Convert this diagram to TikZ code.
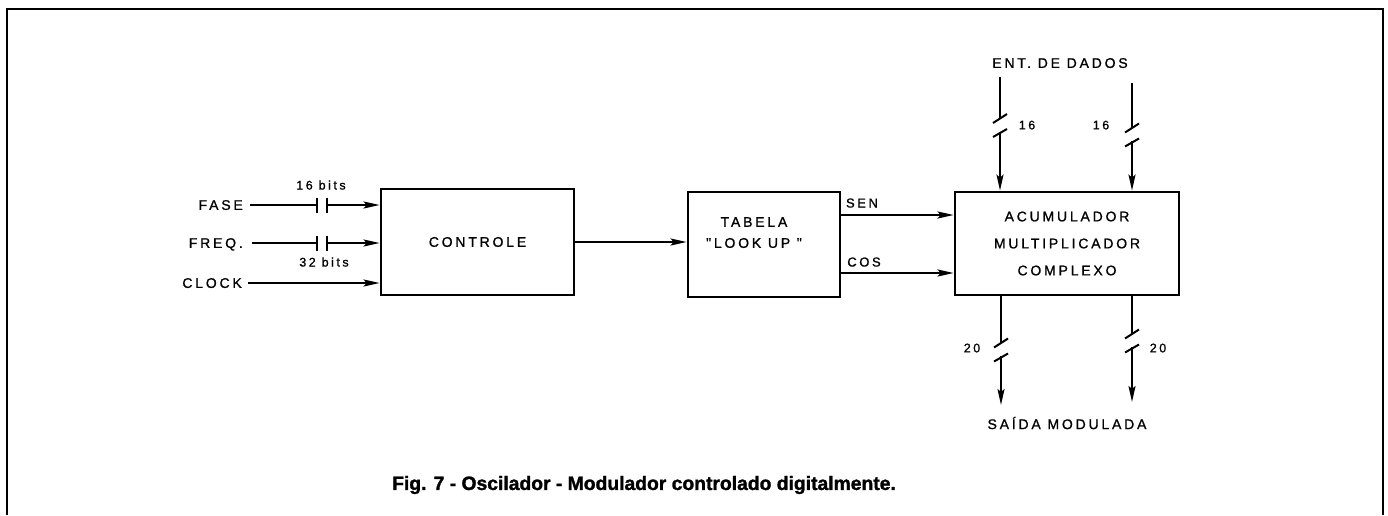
\documentclass[tikz,border=0pt]{standalone}
\usepackage{fontspec}
\setmainfont{Liberation Sans}
\newfontfamily\lblfont[LetterSpace=20, FakeBold=1]{Liberation Sans}
\newfontfamily\capfont[FakeBold=1.5]{Liberation Sans Bold}
\usetikzlibrary{arrows.meta}
\begin{document}
\begin{tikzpicture}[x=1pt,y=-1pt,
  blk/.style={draw, line width=2.8pt, inner sep=0pt, align=center,
    font=\lblfont\fontsize{14}{27}\selectfont},
  conn/.style={line width=2pt},
  arr/.style={conn, -{Stealth[length=16pt,width=7pt,inset=3pt]}},
  lbl/.style={font=\lblfont\fontsize{14}{17}\selectfont, inner sep=0pt, text depth=0pt},
  sml/.style={font=\lblfont\fontsize{12.5}{15}\selectfont, inner sep=0pt, text depth=0pt},
  frm/.style={line width=2.5pt},
  busbreak/.pic={\draw[line width=2pt] (7,-11.5) -- (-7,-2.5); \draw[line width=2pt] (7,3.5) -- (-7,11.5);}
]
\useasboundingbox (0,0) rectangle (1388,515);
\draw[frm] (7,515) -- (7,9) -- (1383,9) -- (1383,515);

% boxes
\node[blk, minimum width=193pt, minimum height=106pt] (ctl) at (477.5,242) {CONTROLE};
\node[blk, minimum width=152pt, minimum height=105pt] (tab) at (764,244.5) {};
\node[lbl, align=center, font=\lblfont\fontsize{14}{21}\selectfont] (tabtxt) at (754,232.5) {TABELA\\"LOOK UP "};
\node[blk, minimum width=224pt, minimum height=103pt] (acc) at (1067,243.5) {ACUMULADOR\\MULTIPLICADOR\\COMPLEXO};

% inputs
\node[lbl, anchor=east] (fase) at (243,205) {FASE};
\node[lbl, anchor=east] (freq) at (243,243) {FREQ.};
\node[lbl, anchor=east] (clk) at (242,283) {CLOCK};
\node[sml] (b16) at (321,185) {16 bits};
\node[sml] (b32) at (324,262) {32 bits};

\coordinate (p1) at (317,205);
\coordinate (p2) at (327,205);
\coordinate (p3) at (317,243);
\coordinate (p4) at (327,243);

\draw[conn] ([xshift=7pt]fase.east) -- (p1);
\draw[conn] ([yshift=7.5pt]p1) -- ([yshift=-7.5pt]p1);
\draw[conn] ([yshift=7.5pt]p2) -- ([yshift=-7.5pt]p2);
\draw[arr] (p2) -- (p2 -| ctl.west);

\draw[conn] ([xshift=9pt]freq.east) -- (p3);
\draw[conn] ([yshift=7.5pt]p3) -- ([yshift=-7.5pt]p3);
\draw[conn] ([yshift=7.5pt]p4) -- ([yshift=-7.5pt]p4);
\draw[arr] (p4) -- (p4 -| ctl.west);

\draw[arr] ([xshift=6pt]clk.east) -- (clk.east -| ctl.west);

% controle -> tabela
\draw[arr] (ctl.east) -- (ctl.east -| tab.west);

% sen / cos
\node[lbl, font=\lblfont\fontsize{13}{15}\selectfont] (sen) at (862,203) {SEN};
\node[lbl, font=\lblfont\fontsize{13}{15}\selectfont] (cos) at (864,262) {COS};
\draw[arr] (tab.east |- 0,215) -- (acc.west |- 0,215);
\draw[arr] (tab.east |- 0,273) -- (acc.west |- 0,273);

% data inputs
\node[lbl] (ent) at (1060,63) {ENT. DE DADOS};
\coordinate (t1) at (1000,77);
\coordinate (t2) at (1132,83);
\coordinate (k1) at (1000,125.5);
\coordinate (k2) at (1132,135);
\draw[conn] (t1) -- ([yshift=7pt]k1);
\pic at (k1) {busbreak};
\draw[arr] ([yshift=-6pt]k1) -- (k1 |- acc.north);
\draw[conn] (t2) -- ([yshift=7pt]k2);
\pic at (k2) {busbreak};
\draw[arr] ([yshift=-6pt]k2) -- (k2 |- acc.north);
\node[sml] (n16a) at (1027,125) {16};
\node[sml] (n16b) at (1101,125) {16};

% outputs
\coordinate (k3) at (1001,350);
\coordinate (k4) at (1132,341);
\coordinate (o1) at (1001,405);
\coordinate (o2) at (1132,402);
\draw[conn] (k3 |- acc.south) -- ([yshift=7pt]k3);
\pic at (k3) {busbreak};
\draw[arr] ([yshift=-6pt]k3) -- (o1);
\draw[conn] (k4 |- acc.south) -- ([yshift=7pt]k4);
\pic at (k4) {busbreak};
\draw[arr] ([yshift=-6pt]k4) -- (o2);
\node[sml] (n20a) at (972,348) {20};
\node[sml] (n20b) at (1158,348) {20};
\node[lbl] (out) at (1067,423) {SAÍDA MODULADA};

% caption
\node[font=\capfont\fontsize{19.3}{22}\selectfont, inner sep=0pt] (cap) at (644,485) {Fig. 7 - Oscilador - Modulador controlado digitalmente.};
\end{tikzpicture}
\end{document}
